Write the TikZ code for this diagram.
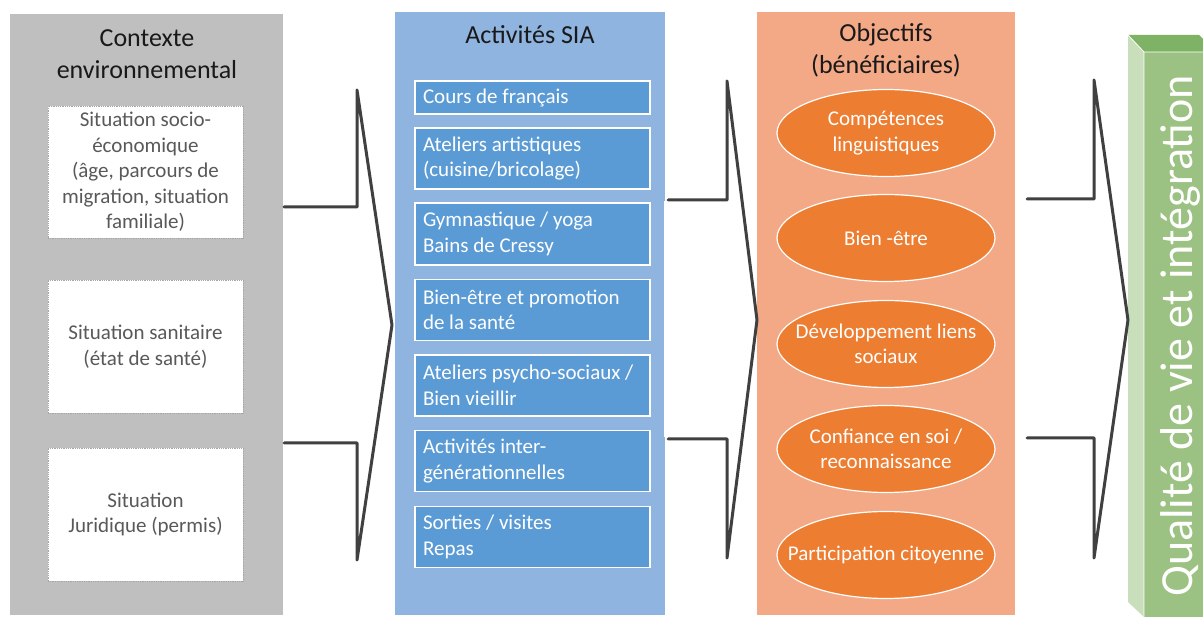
\documentclass[tikz,border=0pt]{standalone}
\usepackage{fontspec}
\setmainfont{Carlito}
\usetikzlibrary{shapes.geometric}
\definecolor{panelgray}{HTML}{BFBFBF}
\definecolor{panelblue}{HTML}{8FB4E0}
\definecolor{boxblue}{HTML}{5B9BD5}
\definecolor{panelorange}{HTML}{F3A886}
\definecolor{ellorange}{HTML}{ED7D31}
\definecolor{greenfront}{HTML}{9CC283}
\definecolor{greentop}{HTML}{7EB264}
\definecolor{greenside}{HTML}{C9DFBB}
\definecolor{linegray}{HTML}{404040}
\definecolor{textgray}{HTML}{595959}
\definecolor{dotgray}{HTML}{A6A6A6}
\tikzset{
  panel/.style={draw=none, inner sep=0, anchor=north west},
  titletxt/.style={align=center, font=\fontsize{26}{32}\selectfont, text=black!90},
  ctxbox/.style={draw=dotgray, densely dotted, line width=0.8pt, fill=white, minimum width=195, align=center, text=textgray, font=\fontsize{21}{25.5}\selectfont, inner sep=0},
  actbox/.style={draw=white, line width=1.2pt, fill=boxblue, minimum width=235, text width=219, align=flush left, text=white, font=\fontsize{21}{25.5}\selectfont, inner sep=0},
  objell/.style={ellipse, draw=white, line width=1.2pt, fill=ellorange, minimum width=218, minimum height=87, inner sep=0},
  elltxt/.style={align=center, text=white, font=\fontsize{21}{25.5}\selectfont, inner sep=0},
  bracket/.style={draw=linegray, line width=3pt, line join=round, line cap=round}
}
\begin{document}
\begin{tikzpicture}[x=1pt, y=-1pt]
\useasboundingbox (0,0) rectangle (1203,617);
\clip (0,0) rectangle (1203,617);
\fill[white] (0,0) rectangle (1203,617);
% panels
\node[panel, fill=panelgray, minimum width=273, minimum height=601] (ctx) at (10,14) {};
\node[panel, fill=panelblue, minimum width=270, minimum height=603] (act) at (395,12) {};
\node[panel, fill=panelorange, minimum width=258, minimum height=603] (obj) at (757,12) {};
% titles
\node[titletxt] (ctxt) at (147,54) {Contexte\\environnemental};
\node[titletxt] (actt) at (530,35) {Activités SIA};
\node[titletxt] (objt) at (886,50) {Objectifs\\(bénéficiaires)};
% context boxes
\node[ctxbox, minimum height=132] (c1) at (145.5,172) {Situation socio-\\économique\\(âge, parcours de\\migration, situation\\familiale)};
\node[ctxbox, minimum height=133] (c2) at (145.5,346.5) {Situation sanitaire\\(état de santé)};
\node[ctxbox, minimum height=133] (c3) at (145.5,514.5) {Situation\\Juridique (permis)};
% activity boxes
\node[actbox, minimum height=33] (a1) at (532.5,97.5) {Cours de français};
\node[actbox, minimum height=61] (a2) at (532.5,158.5) {Ateliers artistiques\\(cuisine/bricolage)};
\node[actbox, minimum height=62] (a3) at (532.5,234) {Gymnastique / yoga\\Bains de Cressy};
\node[actbox, minimum height=61] (a4) at (532.5,310) {Bien-être et promotion\\de la santé};
\node[actbox, minimum height=61] (a5) at (532.5,385.5) {Ateliers psycho-sociaux /\\Bien vieillir};
\node[actbox, minimum height=61] (a6) at (532.5,461) {Activités inter-\\générationnelles};
\node[actbox, minimum height=61] (a7) at (532.5,536.7) {Sorties / visites\\Repas};
% thin white bracket at blue panel edge
\draw[white, line width=1pt] (668,202) -- (664.5,202) -- (664.5,437) -- (668,437);
% objective ellipses
\node[objell] (o1) at (886,133) {};
\node[elltxt] at (o1) {Compétences\\linguistiques};
\node[objell] (o2) at (886,238) {};
\node[elltxt] at (o2) {Bien -être};
\node[objell] (o3) at (886,344) {};
\node[elltxt] at (o3) {Développement liens\\sociaux};
\node[objell] (o4) at (886,449) {};
\node[elltxt] at (o4) {Confiance en soi /\\reconnaissance};
\node[objell] (o5) at (886,555) {};
\node[elltxt] at (o5) {Participation citoyenne};
% green 3D box
\fill[greenside] (1128,35) -- (1144,52) -- (1144,617) -- (1128,602) -- cycle;
\fill[greentop] (1128,35) -- (1199,35) -- (1216,52) -- (1144,52) -- cycle;
\node[panel, fill=greenfront, minimum width=72, minimum height=565] (res) at (1144,52) {};
\draw[white, line width=0.8pt] (1128,35) -- (1144,52) -- (1216,52) (1144,52) -- (1144,617);
\node[rotate=90, text=white, font=\fontsize{46}{50}\selectfont, inner sep=0] (rest) at (1180,336) {Qualité de vie et intégration};
% brackets (connectors)
\coordinate (b1a) at (284,207);
\coordinate (b1b) at (284,443);
\coordinate (b1tip) at (392,325);
\draw[bracket] (b1a) -- (357,207) -- (357,90) -- (b1tip) -- (357,560) -- (357,443) -- (b1b);
\coordinate (b2a) at (668,200);
\coordinate (b2b) at (668,439);
\coordinate (b2tip) at (757,320);
\draw[bracket] (b2a) -- (727,200) -- (727,81) -- (b2tip) -- (727,558) -- (727,439) -- (b2b);
\coordinate (b3a) at (1027,199);
\coordinate (b3b) at (1027,438);
\coordinate (b3tip) at (1128,320);
\draw[bracket] (b3a) -- (1094,199) -- (1094,80) -- (b3tip) -- (1094,558) -- (1094,438) -- (b3b);
\end{tikzpicture}
\end{document}
